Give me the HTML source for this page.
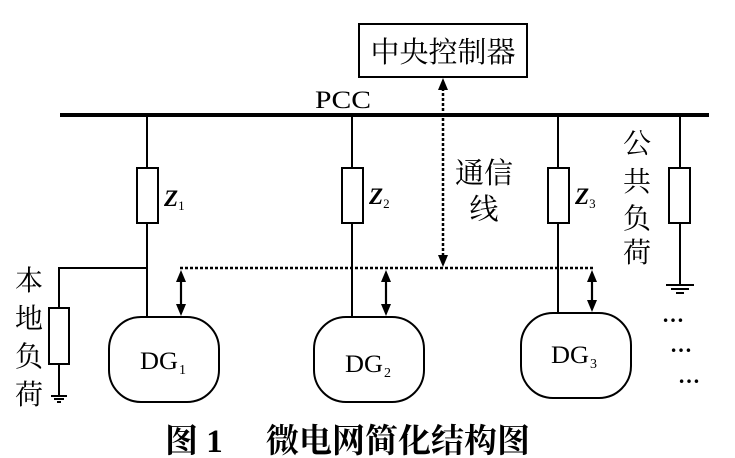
<!DOCTYPE html>
<html><head><meta charset="utf-8"><style>
html,body{margin:0;padding:0;background:#fff}
svg{display:block}
text{font-family:"Liberation Serif","Noto Serif CJK SC",serif;fill:#000}
</style></head><body>
<svg width="735" height="458" viewBox="0 0 735 458" xmlns="http://www.w3.org/2000/svg">
<g stroke="#000" fill="none" stroke-width="2">
<rect x="359" y="24" width="168" height="53"/>
<line x1="60" y1="115" x2="709" y2="115" stroke-width="4"/>
<line x1="147" y1="115" x2="147" y2="317"/>
<line x1="352" y1="115" x2="352" y2="317"/>
<line x1="558" y1="115" x2="558" y2="313"/>
<line x1="680" y1="115" x2="680" y2="285"/>
<rect x="137" y="168" width="21" height="55" fill="#fff"/>
<rect x="342" y="168" width="21" height="55" fill="#fff"/>
<rect x="548" y="168" width="21" height="55" fill="#fff"/>
<rect x="669" y="168" width="21" height="55" fill="#fff"/>
<line x1="666" y1="285" x2="694" y2="285"/>
<line x1="671" y1="289" x2="689" y2="289"/>
<line x1="676" y1="293" x2="684" y2="293"/>
<polyline points="147,268 59,268 59,308"/>
<rect x="49" y="308" width="20" height="56" fill="#fff"/>
<line x1="59" y1="364" x2="59" y2="396"/>
<line x1="51" y1="396" x2="67" y2="396"/>
<line x1="54" y1="399" x2="64" y2="399"/>
<line x1="57" y1="402" x2="61" y2="402"/>
<rect x="109" y="317" width="110" height="85" rx="32"/>
<rect x="314" y="317" width="110" height="85" rx="32"/>
<rect x="521" y="313" width="110" height="85" rx="32"/>
<line x1="443" y1="88" x2="443" y2="260" stroke-dasharray="3,2" stroke-width="2.5"/>
<line x1="180" y1="268" x2="593" y2="268" stroke-dasharray="3,2" stroke-width="2.5"/>
</g>
<g fill="#000">
<path d="M443,78 L438,90 L448,90 z"/>
<path d="M443,267 L438,255 L448,255 z"/>
</g>
<g stroke="#000" stroke-width="2.2">
<line x1="181" y1="278" x2="181" y2="306"/>
<line x1="386" y1="278" x2="386" y2="306"/>
<line x1="592" y1="278" x2="592" y2="302"/>
</g>
<g fill="#000">
<path d="M181,270 L176,282 L186,282 z"/><path d="M181,316 L176,304 L186,304 z"/>
<path d="M386,270 L381,282 L391,282 z"/><path d="M386,316 L381,304 L391,304 z"/>
<path d="M592,270 L587,282 L597,282 z"/><path d="M592,312 L587,300 L597,300 z"/>
</g>
<text x="443" y="62" font-size="29" text-anchor="middle">中央控制器</text>
<text x="343" y="108" font-size="25" text-anchor="middle" textLength="56" lengthAdjust="spacingAndGlyphs">PCC</text>
<text x="164" y="206" font-size="23" font-weight="bold" font-style="italic">Z<tspan font-size="13" font-weight="normal" font-style="normal" dy="4">1</tspan></text>
<text x="369" y="204" font-size="23" font-weight="bold" font-style="italic">Z<tspan font-size="13" font-weight="normal" font-style="normal" dy="4">2</tspan></text>
<text x="575" y="204" font-size="23" font-weight="bold" font-style="italic">Z<tspan font-size="13" font-weight="normal" font-style="normal" dy="4">3</tspan></text>
<text x="484" y="183" font-size="29" text-anchor="middle">通信</text>
<text x="484" y="219" font-size="29" text-anchor="middle">线</text>
<g font-size="28" text-anchor="middle">
<text x="637" y="153">公</text><text x="637" y="191">共</text><text x="637" y="228">负</text><text x="637" y="262">荷</text>
<text x="29" y="290">本</text><text x="29" y="328">地</text><text x="29" y="366">负</text><text x="29" y="404">荷</text>
</g>
<text x="140" y="369" font-size="25" textLength="38" lengthAdjust="spacingAndGlyphs">DG</text><text x="179" y="374" font-size="14">1</text>
<text x="345" y="372" font-size="25" textLength="38" lengthAdjust="spacingAndGlyphs">DG</text><text x="384" y="377" font-size="14">2</text>
<text x="551" y="363" font-size="25" textLength="38" lengthAdjust="spacingAndGlyphs">DG</text><text x="590" y="368" font-size="14">3</text>
<g font-size="22" font-weight="bold">
<text x="662" y="322">…</text><text x="670" y="352">…</text><text x="678" y="383">…</text>
</g>
<text x="165" y="452" font-size="33" font-weight="bold">图 1</text>
<text x="266" y="452" font-size="33" font-weight="bold">微电网简化结构图</text>
</svg>
</body></html>
